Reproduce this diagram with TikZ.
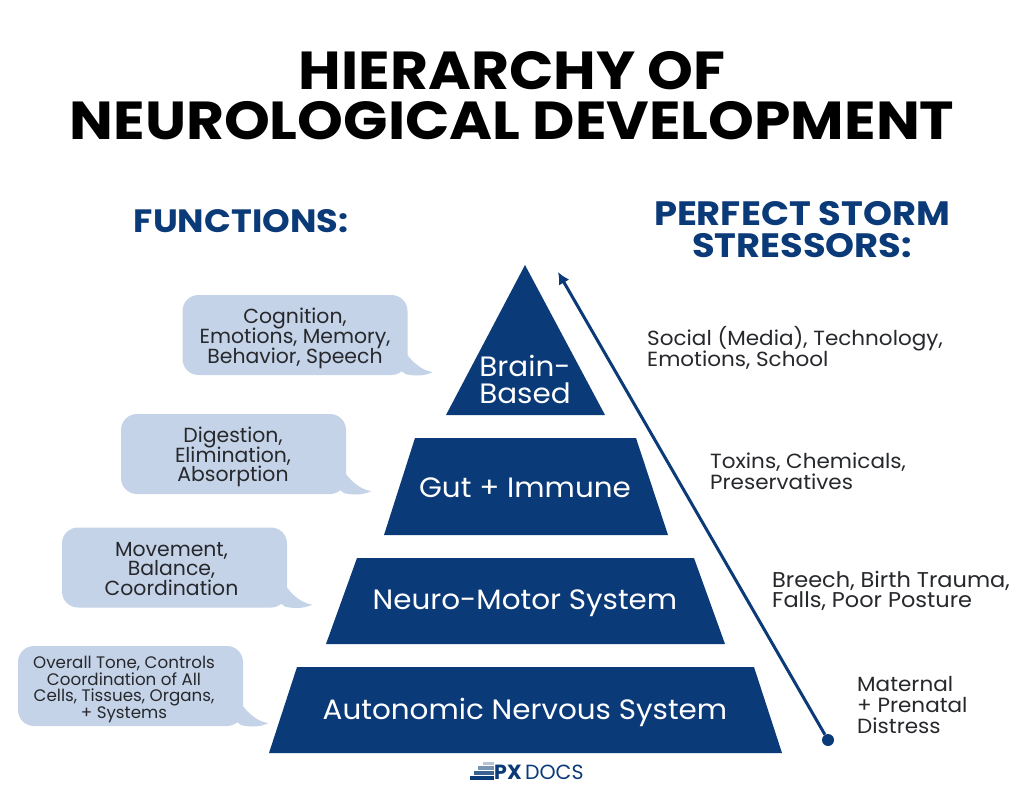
\documentclass[tikz,border=0pt]{standalone}
\usepackage{fontspec}
\setmainfont{Poppins}
\newfontfamily\widefont[FakeStretch=1.09]{Poppins}
\newfontfamily\softfont[FakeStretch=1.05]{Poppins}
\lineskiplimit=-30pt
\usetikzlibrary{arrows.meta}
\definecolor{pxnavy}{HTML}{0B3A78}
\definecolor{pxbubble}{HTML}{C5D3E8}
\definecolor{pxtext}{HTML}{26282C}
\tikzset{
  titletext/.style={text=black, align=center, font=\widefont\fontsize{53.5}{50}\selectfont\bfseries},
  headtext/.style={text=pxnavy, align=center, font=\widefont\fontsize{32.3}{32}\selectfont\bfseries},
  leveltext/.style={text=white, align=center, font=\softfont\fontsize{28}{27}\selectfont},
  stresstext/.style={text=pxtext, align=left, anchor=west, inner sep=0pt, font=\softfont\fontsize{20.5}{20.7}\selectfont},
  bubble/.style={fill=pxbubble, rounded corners=16pt, minimum width=225pt, minimum height=80pt, inner sep=0pt},
  bubbletext/.style={text=pxtext, align=center, inner sep=0pt, font=\fontsize{20.4}{19.7}\selectfont},
  level/.style={fill=pxnavy},
}
\newcommand{\bubbletail}[1]{
  \fill[pxbubble, shift={(#1.south east)}] (-1,-21) .. controls (6,-12) and (14,-5) .. (25,-3) .. controls (16,1) and (8,1) .. (-2,-1) -- (-14,-10) -- cycle;
}
\begin{document}
\begin{tikzpicture}[x=1pt, y=-1pt]
    \useasboundingbox[fill=white] (0,0) rectangle (1024,791);
    % title and headings
    \node[titletext] (title) at (512,96) {HIERARCHY OF\\NEUROLOGICAL DEVELOPMENT};
    \node[headtext] (functions) at (241,221) {FUNCTIONS:};
    \node[headtext, font=\widefont\fontsize{33.8}{32}\selectfont\bfseries] (stressors) at (802,230) {PERFECT STORM\\STRESSORS:};

    % pyramid
    \fill[level] (525,265) -- (605,415) -- (446,415) -- cycle;
    \fill[level] (415,438) -- (636,438) -- (668,535) -- (384,535) -- cycle;
    \fill[level] (357,558) -- (694,558) -- (725,644) -- (326,644) -- cycle;
    \fill[level] (297,667) -- (754,667) -- (782,753) -- (269,753) -- cycle;
    \node[leveltext] (brain) at (525,379.5) {Brain-\\Based};
    \node[leveltext] (gut) at (525,488) {Gut + Immune};
    \node[leveltext] (motor) at (525,603) {Neuro-Motor System};
    \node[leveltext] (autonomic) at (525,712) {Autonomic Nervous System};

    % functions
    \node[bubble] (cognition) at (295,335) {};
    \node[bubble] (digestion) at (233.5,454) {};
    \node[bubble] (movement) at (174.5,567.5) {};
    \node[bubble] (tone) at (130.5,686) {};
    \bubbletail{cognition}
    \bubbletail{digestion}
    \bubbletail{movement}
    \bubbletail{tone}
    \node[bubbletext] (cognitiontext) at (295,338.5) {Cognition,\\Emotions, Memory,\\Behavior, Speech};
    \node[bubbletext] (digestiontext) at (233,457) {Digestion,\\Elimination,\\Absorption};
    \node[bubbletext] (movementtext) at (171.5,569) {Movement,\\Balance,\\Coordination};
    \node[bubbletext, font=\fontsize{16.7}{16.8}\selectfont] (tonetext) at (124,689.5) {Overall Tone, Controls\\Coordination of All\\Cells, Tissues, Organs,\\+ Systems};

    % stressors
    \node[stresstext] (social) at (647,348) {Social (Media), Technology,\\Emotions, School};
    \node[stresstext] (toxins) at (710,471) {Toxins, Chemicals,\\Preservatives};
    \node[stresstext, font=\softfont\fontsize{21.4}{20.7}\selectfont] (breech) at (772,591) {Breech, Birth Trauma,\\Falls, Poor Posture};
    \node[stresstext] (maternal) at (857,705) {Maternal\\+ Prenatal\\Distress};

    % arrow
    \node[circle, fill=pxnavy, inner sep=0pt, minimum size=12pt] (start) at (828,740) {};
    \coordinate (peak) at (558,272);
    \draw[pxnavy, line width=3pt, -{Latex[length=12pt,width=12pt]}] (start) -- (peak);

    % logo
    \fill[pxnavy] (470,776) rectangle (494,780);
    \fill[pxnavy!80] (474,771) rectangle (494,775);
    \fill[pxnavy!55] (478,766) rectangle (494,770);
    \fill[pxnavy!30] (483,762) rectangle (494,765);
    \node[text=pxnavy, anchor=west, inner sep=0pt, font=\fontsize{20.5}{21}\selectfont] (logo) at (494,772) {\textbf{PX}\,DOCS};
\end{tikzpicture}
\end{document}
